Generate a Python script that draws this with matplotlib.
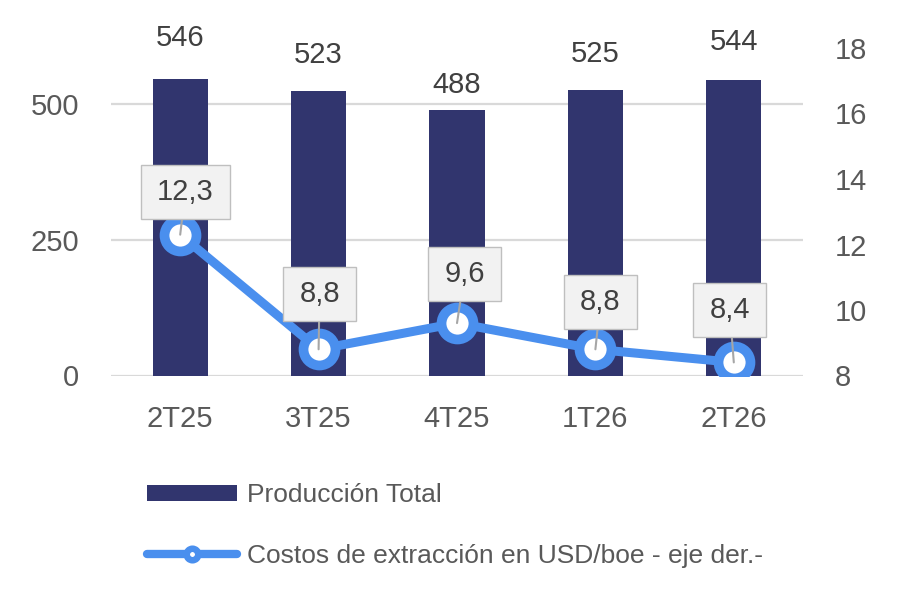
import matplotlib
matplotlib.use("Agg")
import matplotlib.pyplot as plt
from matplotlib.lines import Line2D
from matplotlib.patches import Patch
from matplotlib.path import Path

plt.rcParams['font.family'] = ['Liberation Sans', 'DejaVu Sans']

categories = ["2T25", "3T25", "4T25", "1T26", "2T26"]
produccion = [546, 523, 488, 525, 544]
costos = [12.3, 8.8, 9.6, 8.8, 8.4]
costos_labels = ["12,3", "8,8", "9,6", "8,8", "8,4"]
left_ticks = [0, 250, 500]
right_ticks = [8, 10, 12, 14, 16, 18]
legend_labels = ["Producción Total", "Costos de extracción en USD/boe - eje der.-"]

BAR = "#31356E"
LINE = "#4A8FEE"
TICK = "#595959"
LAB = "#404040"

# label offsets (points) - style
bar_lab_off = [29.5, 26.5, 18, 26.5, 27.5]
call_off = [(3.6, 30.6), (0.7, 40), (5.4, 35.3), (3.6, 34.2), (-2.9, 37.8)]


def callout_box(x0, y0, width, height, mutation_size):
    px = 0.55 * mutation_size
    py = 0.44 * mutation_size
    x0 -= px
    y0 -= py
    w = width + 2 * px
    h = height + 2 * py
    return Path([(x0, y0), (x0 + w, y0), (x0 + w, y0 + h), (x0, y0 + h), (x0, y0)],
                [Path.MOVETO, Path.LINETO, Path.LINETO, Path.LINETO, Path.CLOSEPOLY])


fig = plt.figure(figsize=(9.02, 6.14), dpi=100)
ax = fig.add_axes([111/902, 1-375.5/614, 692/902, (375.5-48)/614])
x = list(range(len(categories)))

ax.bar(x, produccion, width=0.40, color=BAR, zorder=2)
ax.set_xlim(-0.5, 4.5)
ax.set_ylim(0, 603)
ax.set_yticks(left_ticks)
ax.set_axisbelow(True)
ax.yaxis.grid(True, color="#D9D9D9", lw=1.6)
ax.set_xticks(x)
ax.set_xticklabels(categories)
for s in ax.spines.values():
    s.set_visible(False)
ax.tick_params(axis='both', length=0, labelsize=21, colors=TICK)
ax.tick_params(axis='y', pad=23)
ax.tick_params(axis='x', pad=21)

for i, v in enumerate(produccion):
    ax.annotate(str(v), xy=(i, v), xytext=(0, bar_lab_off[i]), textcoords='offset points',
                ha='center', va='center', fontsize=21, color=LAB)

ax2 = ax.twinx()
ax2.set_ylim(8, 18)
ax2.set_yticks(right_ticks)
for s in ax2.spines.values():
    s.set_visible(False)
ax2.tick_params(axis='y', length=0, labelsize=21, colors=TICK, pad=23)
ax2.plot(x, costos, color=LINE, lw=6.5, marker='o', ms=23, mfc='white', mec=LINE, mew=7,
         zorder=3, solid_capstyle='round')

for i, v in enumerate(costos):
    ax2.annotate(costos_labels[i], xy=(i, v), xytext=call_off[i], textcoords='offset points',
                 ha='center', va='center', fontsize=21, color=LAB, zorder=5,
                 bbox=dict(boxstyle=callout_box, fc='#F2F2F2', ec='#BFBFBF', lw=1),
                 arrowprops=dict(arrowstyle='-', color='#A6A6A6', lw=1.5, shrinkA=0, shrinkB=0))

handles = [Patch(facecolor=BAR, edgecolor='none'),
           Line2D([], [], color=LINE, lw=6, marker='o', ms=8.3, mfc='white', mec=LINE, mew=4.7,
                  solid_capstyle='round')]
fig.legend(handles, legend_labels, loc='upper left', bbox_to_anchor=(147/902, 1-483/614),
           frameon=False, fontsize=19, labelcolor=TICK, handlelength=3.4, handleheight=0.55,
           handletextpad=0.38, labelspacing=1.4, borderpad=0, borderaxespad=0)

fig.savefig("out.png", dpi=100)
